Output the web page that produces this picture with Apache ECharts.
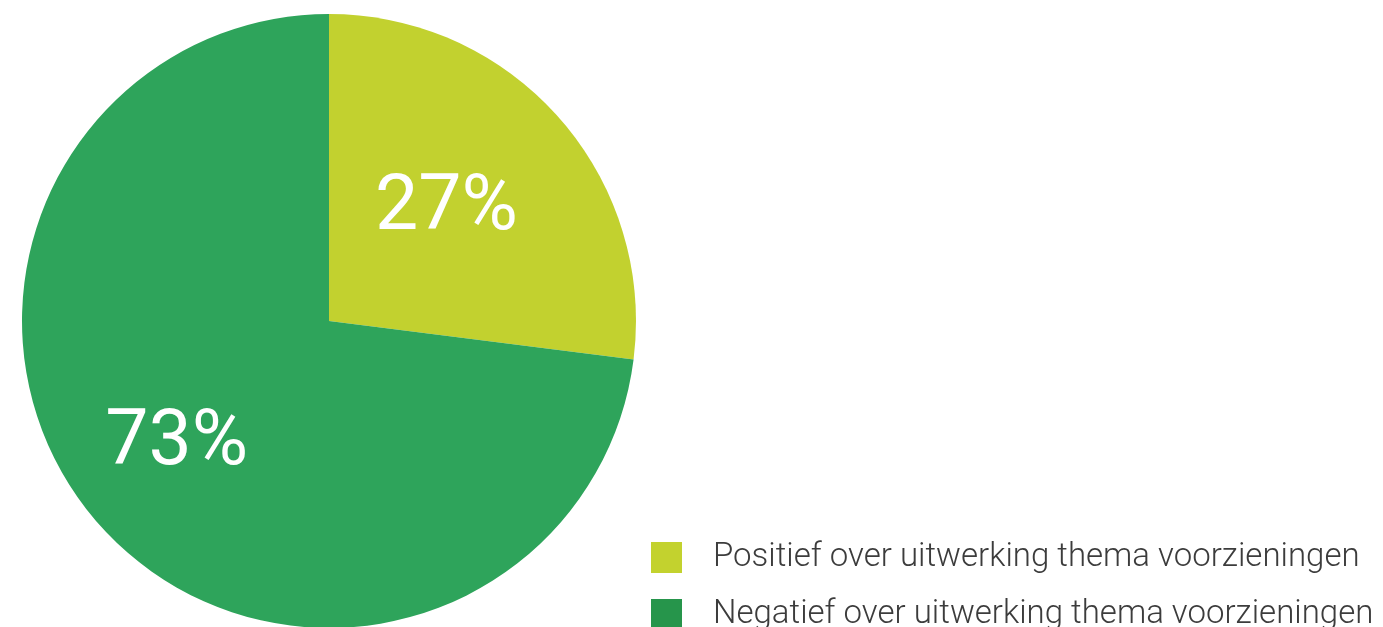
<!DOCTYPE html>
<html>
<head>
<meta charset="utf-8">
<script src="https://cdn.jsdelivr.net/npm/echarts@6/dist/echarts.min.js"></script>
<style>
html,body{margin:0;padding:0;background:#fff;}
#chart{width:1383px;height:627px;}
</style>
</head>
<body>
<div id="chart"></div>
<script>
const categories = ['Positief over uitwerking thema voorzieningen', 'Negatief over uitwerking thema voorzieningen'];
const values = [27, 73];
const labels = ['27%', '73%'];
const sliceColors = ['#c2d12f', '#2ea45b'];
const legendColors = ['#c3d22e', '#26954b'];
const labelOffsets = [[0, -8], [-35, 20]];

const chart = echarts.init(document.getElementById('chart'));
chart.setOption({
  animation: false,
  legend: {
    orient: 'vertical',
    left: 651,
    top: 541,
    height: 200,
    width: 800,
    padding: 0,
    itemWidth: 31,
    itemHeight: 31,
    itemGap: 24,
    icon: 'rect',
    selectedMode: false,
    textStyle: {
      fontFamily: 'Roboto',
      fontWeight: 300,
      fontSize: 33,
      color: '#3c3c3c',
      padding: [0, 0, 0, 26]
    },
    data: categories.map((c, i) => ({ name: c, itemStyle: { color: legendColors[i] } }))
  },
  series: [{
    type: 'pie',
    center: [329, 321],
    radius: [0, 307],
    startAngle: 90,
    clockwise: true,
    silent: true,
    label: {
      show: true,
      position: 'inside',
      color: '#ffffff',
      fontFamily: 'Roboto',
      fontSize: 77,
      fontWeight: 400
    },
    labelLine: { show: false },
    itemStyle: { borderWidth: 0 },
    data: categories.map((c, i) => ({
      name: c,
      value: values[i],
      itemStyle: { color: sliceColors[i] },
      label: { formatter: labels[i], offset: labelOffsets[i] }
    }))
  }]
});
</script>
</body>
</html>
